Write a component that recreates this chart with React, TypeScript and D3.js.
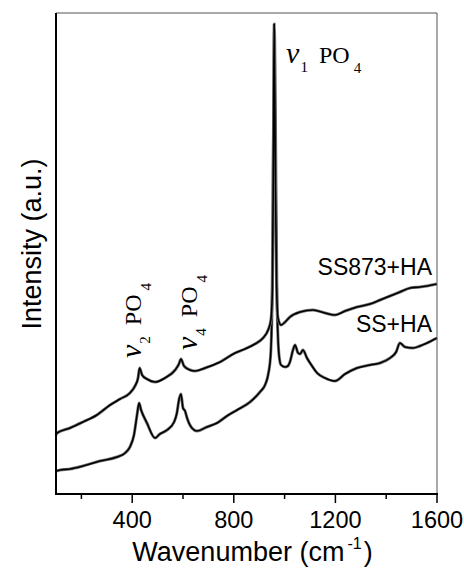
import React from 'react';
import * as d3 from 'd3';

// Raman spectra (intensity in arbitrary units)
const wavenumbersSS873 = [100, 104, 155, 206, 261, 313, 352, 391, 411, 423, 429, 439, 458, 490, 529, 569, 584, 592, 604, 628, 647, 687, 746, 805, 844, 883, 915, 935, 946, 952, 956, 959, 963, 968, 974, 986, 1002, 1021, 1061, 1112, 1159, 1198, 1238, 1285, 1336, 1376, 1415, 1454, 1494, 1533, 1600];
const intensitySS873 = [59, 61, 66, 72, 79, 89, 95, 101, 108, 116, 126, 119, 115, 112, 116, 124, 130, 135, 128, 124, 123, 126, 132, 141, 145, 150, 156, 164, 174, 204, 344, 470, 344, 214, 176, 169, 172, 177, 182, 184, 181, 179, 183, 187, 190, 194, 198, 202, 206, 207, 210];

const wavenumbersSS = [100, 116, 155, 206, 273, 340, 372, 391, 407, 419, 427, 435, 458, 490, 509, 537, 565, 576, 584, 592, 600, 608, 616, 635, 655, 694, 734, 773, 813, 864, 903, 923, 935, 945, 951, 957, 960, 964, 970, 978, 986, 1002, 1013, 1021, 1033, 1041, 1053, 1061, 1072, 1088, 1108, 1128, 1159, 1198, 1238, 1285, 1336, 1376, 1415, 1439, 1454, 1474, 1506, 1533, 1561, 1600];
const intensitySS = [23, 24, 25, 28, 33, 37, 41, 47, 59, 79, 91, 84, 71, 56, 60, 64, 72, 81, 94, 100, 86, 83, 76, 66, 63, 67, 71, 78, 84, 92, 102, 109, 119, 139, 194, 394, 464, 374, 194, 139, 129, 127, 128, 132, 144, 149, 141, 140, 144, 136, 128, 121, 116, 113, 120, 126, 129, 131, 136, 142, 151, 147, 146, 148, 151, 156];

const majorTicks = [400, 800, 1200, 1600];
const minorTicks = [200, 600, 1000, 1400];

const sans = 'Liberation Sans, Arial, Helvetica, sans-serif';
const serif = 'Liberation Serif, Times New Roman, serif';

function Spectrum({xs, ys, x, y}) {
    const line = d3.line()
        .x((d) => x(d[0]))
        .y((d) => y(d[1]))
        .curve(d3.curveMonotoneX);
    const d = line(xs.map((v, i) => [v, ys[i]]));
    return (
        <g>
            <path d={d} fill="none" stroke="#777" strokeWidth={3} strokeLinejoin="round" />
            <path d={d} fill="none" stroke="#000" strokeWidth={1.6} strokeLinejoin="round" />
        </g>
    );
}

function PeakLabel({x, y, mode, angle = 0}) {
    return (
        <g transform={`translate(${x}, ${y}) rotate(${angle})`}>
            <text x={0} y={0} fontFamily={serif} fill="#000">
                <tspan fontStyle="italic" fontSize={30}>v</tspan>
                <tspan fontSize={15} dy={9} dx={1}>{mode}</tspan>
                <tspan fontSize={24} dy={-9} dx={11}>PO</tspan>
                <tspan fontSize={15} dy={10} dx={4}>4</tspan>
            </text>
        </g>
    );
}

export default function App() {
    const width = 464, height = 569;
    const left = 56, right = 437, top = 13, bottom = 494;

    const x = d3.scaleLinear().domain([100, 1600]).range([left, right]);
    const y = d3.scaleLinear().domain([0, 481]).range([bottom, top]);

    return (
        <svg width={width} height={height} xmlns="http://www.w3.org/2000/svg"
             style={{position: 'absolute', left: 0, top: 0, background: '#fff'}}>
            <Spectrum xs={wavenumbersSS} ys={intensitySS} x={x} y={y} />
            <Spectrum xs={wavenumbersSS873} ys={intensitySS873} x={x} y={y} />

            {/* frame: thin top/right, heavy left/bottom */}
            <line x1={left} x2={right} y1={top} y2={top} stroke="#555" strokeWidth={1} />
            <line x1={right} x2={right} y1={top} y2={bottom} stroke="#555" strokeWidth={1} />
            <line x1={left} x2={left} y1={top} y2={bottom + 1} stroke="#000" strokeWidth={2} />
            <line x1={left - 1} x2={right + 1} y1={bottom} y2={bottom} stroke="#000" strokeWidth={2} />

            {minorTicks.map((v) =>
                <line key={`minor_${v}`} x1={x(v)} x2={x(v)} y1={bottom} y2={bottom + 5} stroke="#000" strokeWidth={1.5} />
            )}
            {majorTicks.map((v) =>
                <g key={`major_${v}`}>
                    <line x1={x(v)} x2={x(v)} y1={bottom} y2={bottom + 9} stroke="#000" strokeWidth={1.5} />
                    <text x={x(v)} y={528} textAnchor="middle" fontFamily={sans} fontSize={23.5}>{v}</text>
                </g>
            )}

            <text x={(left + right) / 2 + 6} y={561} textAnchor="middle" fontFamily={sans} fontSize={27}>
                Wavenumber (cm<tspan fontSize={16} dy={-12} dx={3}>-1</tspan><tspan dy={12} dx={2}>)</tspan>
            </text>
            <text transform={`translate(41, 244) rotate(-90)`} textAnchor="middle" fontFamily={sans} fontSize={27}>
                Intensity (a.u.)
            </text>

            <PeakLabel x={x(1006)} y={y(431)} mode="1" />
            <PeakLabel x={x(435)} y={y(136)} mode="2" angle={-90} />
            <PeakLabel x={x(655)} y={y(144)} mode="4" angle={-90} />

            <text x={432} y={275} textAnchor="end" fontFamily={sans} fontSize={23}>SS873+HA</text>
            <text x={432} y={332} textAnchor="end" fontFamily={sans} fontSize={23}>SS+HA</text>
        </svg>
    );
}
